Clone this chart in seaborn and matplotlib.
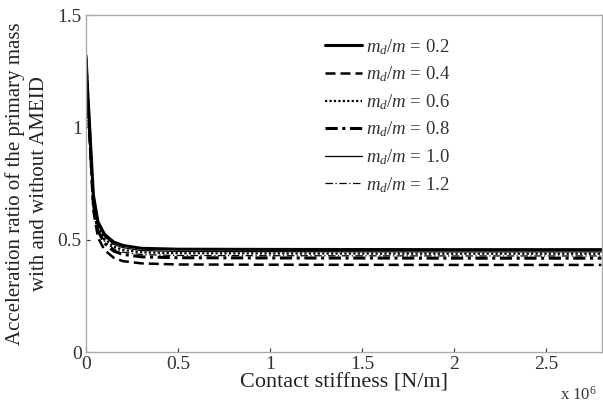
import numpy as np
import pandas as pd
import matplotlib
matplotlib.use("Agg")
import matplotlib.pyplot as plt
import seaborn as sns

sns.set_style("ticks")
plt.rcParams['font.family'] = ['Liberation Serif', 'DejaVu Serif']
plt.rcParams['mathtext.fontset'] = 'custom'
plt.rcParams['mathtext.it'] = 'Liberation Serif:italic'
plt.rcParams['mathtext.rm'] = 'Liberation Serif'

# contact stiffness (x 10^6 N/m)
stiffness = [0, 0.01, 0.02, 0.04, 0.065, 0.1, 0.15, 0.2, 0.3, 0.5, 1.0, 2.0, 2.8]
ratios = ["0.2", "0.4", "0.6", "0.8", "1.0", "1.2"]
acc_02 = [1.32, 1.15, 1.00, 0.70, 0.58, 0.525, 0.49, 0.475, 0.462, 0.458, 0.457, 0.456, 0.456]
acc_04 = [1.30, 1.10, 0.95, 0.63, 0.51, 0.455, 0.42, 0.405, 0.395, 0.390, 0.389, 0.388, 0.388]
acc_06 = [1.31, 1.13, 0.98, 0.68, 0.56, 0.505, 0.47, 0.455, 0.444, 0.440, 0.439, 0.438, 0.438]
acc_08 = [1.31, 1.12, 0.97, 0.66, 0.54, 0.485, 0.45, 0.435, 0.424, 0.420, 0.419, 0.418, 0.418]
acc_10 = [1.32, 1.14, 0.99, 0.69, 0.57, 0.515, 0.48, 0.465, 0.452, 0.448, 0.447, 0.446, 0.446]
acc_12 = [1.31, 1.12, 0.97, 0.67, 0.55, 0.495, 0.46, 0.445, 0.434, 0.430, 0.429, 0.428, 0.428]
series = [acc_02, acc_04, acc_06, acc_08, acc_10, acc_12]

styles = [
    dict(lw=2.2, ls="-"),
    dict(lw=1.8, ls=(0, (4, 2))),
    dict(lw=1.6, ls=(0, (1, 1))),
    dict(lw=2.2, ls=(0, (4, 1.5, 1, 1.5))),
    dict(lw=0.9, ls="-"),
    dict(lw=0.9, ls=(0, (6, 2, 1, 2))),
]

fig = plt.figure(figsize=(6.03, 4.08), dpi=100)
ax = fig.add_axes([0.1426, 0.137, 0.855, 0.826])

for r, y, st in zip(ratios, series, styles):
    df = pd.DataFrame({"k": stiffness, "a": y})
    sns.lineplot(data=df, x="k", y="a", ax=ax, color="black",
                 label=r"$m_d/m$ = " + r, **st)

ax.set_xlim(0, 2.8)
ax.set_ylim(0, 1.5)
ax.set_xticks([0, 0.5, 1, 1.5, 2, 2.5])
ax.set_xticklabels(["0", "0.5", "1", "1.5", "2", "2.5"])
ax.set_yticks([0, 0.5, 1, 1.5])
ax.set_yticklabels(["0", "0.5", "1", "1.5"])
ax.tick_params(direction="in", length=3, labelsize=14, colors="#333333", pad=3)
for s in ax.spines.values():
    s.set_color("#aaaaaa")
    s.set_linewidth(1.0)
ax.set_xlabel("Contact stiffness [N/m]", fontsize=16, color="#222222", labelpad=0)
ax.set_ylabel("Acceleration ratio of the primary mass\nwith and without AMEID",
              fontsize=15, color="#222222", labelpad=6, linespacing=1.35)
ax.text(0.99, -0.1, r"x 10$^6$", transform=ax.transAxes, ha="right",
        va="top", fontsize=12, color="#333333")

leg = ax.legend(loc="upper left", bbox_to_anchor=(0.43, 0.985), frameon=False,
                fontsize=13.5, handlelength=2.0, handletextpad=0.2,
                labelspacing=0.42)
for t in leg.get_texts():
    t.set_color("#333333")

fig.savefig("out.png", dpi=100)
